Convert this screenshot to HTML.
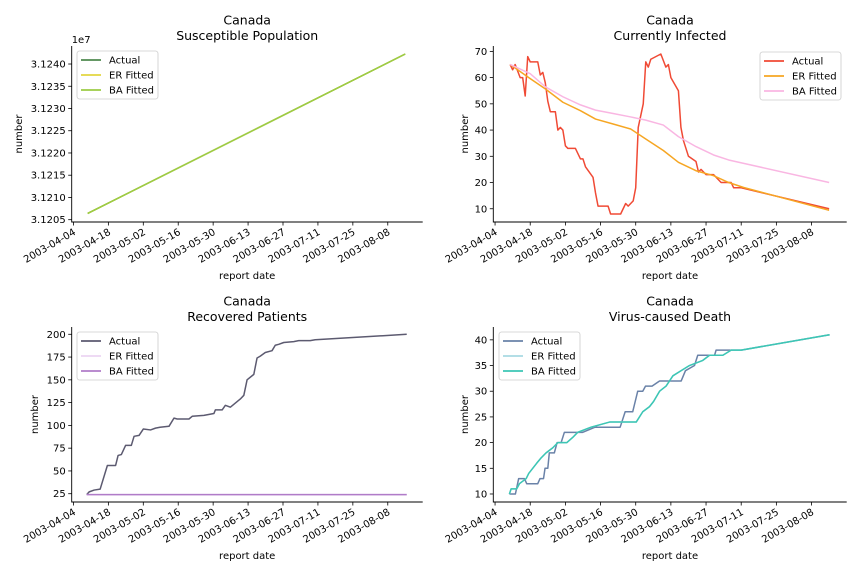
<!DOCTYPE html>
<html><head><meta charset="utf-8">
<style>
html,body{margin:0;padding:0;background:#fff;}
svg{display:block;font-family:"DejaVu Sans","Liberation Sans",sans-serif;}
</style></head>
<body>
<svg id="fig" width="864" height="576" viewBox="0 0 864 576" xmlns="http://www.w3.org/2000/svg"></svg>
<script>
// ---------- shared x data ----------
const tickDays = [0,14,28,42,56,70,84,98,112,126];
const tickLabels = ["2003-04-04","2003-04-18","2003-05-02","2003-05-16","2003-05-30","2003-06-13","2003-06-27","2003-07-11","2003-07-25","2003-08-08"];

// ---------- Susceptible (units of 1e7) ----------
const susDays = [5.7,133];
const susActual = [3.12064,3.124225];
const susER = [3.12064,3.124225];
const susBA = [3.12064,3.124225];
const susTicks = [3.1205,3.1210,3.1215,3.1220,3.1225,3.1230,3.1235,3.1240];
const susTickLabels = ["3.1205","3.1210","3.1215","3.1220","3.1225","3.1230","3.1235","3.1240"];

// ---------- Currently infected ----------
const infActDays = [6,7,8,10,11,12,13,14,17,18,19,20,21,22,24,25,26,27,28,29,32,34,35,36,39,40,41,45,46,48,50,52,53,55,56,57,59,60,61,62,66,68,69,70,73,74,75,77,80,81,82,84,87,89,90,94,95,98,133];
const infActual = [65,63,65,60,60,53,68,66,66,61,62,58,51,47,47,40,41,40,34,33,33,29,29,26,22,16,11,11,8,8,8,12,11,13,18,41,50,66,64,67,69,64,65,60,55,41,36,30,28,24,25,23,23,21,20,20,18,18,10];
const infFitDays = [6,14,20,27,34,40,47,54,60,67,73,80,87,93,99,133];
const infER = [65,59.6,55.7,50.6,47.4,44.2,42.3,40.4,36.6,32.2,27.7,24.5,22.6,20,18.1,9.4];
const infBA = [65,61.5,56.5,52.7,49.6,47.6,46.3,45,43.8,41.9,37.5,33.7,30.5,28.6,27.3,20];
const infTicks = [10,20,30,40,50,60,70];

// ---------- Recovered ----------
const recDays = [5.3,6.3,8.3,10.7,13.6,16.9,17.9,19.2,20.9,23.2,24.3,26.3,28,30.9,32.9,34.7,38.3,40.3,41.6,46.3,47.6,52.3,56.3,56.9,59.6,60.9,62.9,66.9,68.3,69.6,72.3,73.6,74.9,76.9,79.6,80.9,82.3,84.3,88.3,90.3,94.9,96.9,133.6];
const recActual = [24,27,29,30,56,56,67,68,78,78,88,89,96,95,97,98,99,108,107,107,110,111,113,117,117,122,120,129,133,150,156,174,176,180,182,188,189,191,192,193,193,194,200];
const recFitDays = [5.3,133.6];
const recER = [24,24];
const recBA = [24,24];
const recTicks = [25,50,75,100,125,150,175,200];

// ---------- Deaths ----------
const deaActDays = [5.7,8.1,9.4,11.7,12.6,17,17.9,19.3,19.9,21,21.6,23.6,24.7,26.3,27.6,34.9,39.8,49.8,51.8,54.8,56.8,58.8,59.9,62.5,65.5,74.1,75.8,79.4,80.7,87.4,88,98,133.2];
const deaActual = [10,10,13,13,12,12,13,13,15,15,18,18,20,20,22,22,23,23,26,26,30,30,31,31,32,32,34,35,37,37,38,38,41];
const deaFitDays = [5.7,6.4,8.6,9.7,12.4,13.4,15,16.6,18.3,20.3,23,25,28.6,30.9,32.9,38.2,45.6,56.2,58.8,61.5,63.1,65.5,68.1,70.8,74.1,77.4,82.7,85.4,90.7,94,98,133.2];
const deaER = [10,11,11,12,13,14,15,16,17,18,19,20,20,21,22,23,24,24,26,27,28,30,31,33,34,35,36,37,37,38,38,41];
const deaBA = [10,11,11,12,13,14,15,16,17,18,19,20,20,21,22,23,24,24,26,27,28,30,31,33,34,35,36,37,37,38,38,41];
const deaTicks = [10,15,20,25,30,35,40];

const NS = "http://www.w3.org/2000/svg";
const fig = document.getElementById('fig');
function mk(tag, attrs, parent){
  const e = document.createElementNS(NS, tag);
  for (const k in attrs) e.setAttribute(k, attrs[k]);
  (parent||fig).appendChild(e);
  return e;
}

function panel(cfg){
  const g = mk('g', {});
  
  
  const L=cfg.L, R=cfg.R, T=cfg.T, B=cfg.B;
  const xmin=-0.7, xmax=140;
  const xs = d => L + (d - xmin) / (xmax - xmin) * (R - L);
  const ys = v => B - (v - cfg.ymin) / (cfg.ymax - cfg.ymin) * (B - T);
  const cx = (L + R) / 2;
  const t1 = mk('text', {x:cx, y:T-21.5, 'text-anchor':'middle', 'font-size':12.5, fill:'#000'}, g);
  t1.textContent = 'Canada';
  
  
  const t2 = mk('text', {x:cx, y:T-6, 'text-anchor':'middle', 'font-size':12.5, fill:'#000'}, g);
  t2.textContent = cfg.title;
  
  
  cfg.series.forEach(s => {
    const pts = s.days.map((d,i) => xs(d).toFixed(2) + ',' + ys(s.vals[i]).toFixed(2)).join(' ');
    const pl = mk('polyline', {points:pts, fill:'none', stroke:s.color, 'stroke-width':1.5, 'stroke-linejoin':'round'}, g);
    
    
  });
  const sp = mk('path', {d:`M${L},${T} V${B} H${R}`, fill:'none', stroke:'#000', 'stroke-width':0.9}, g);
  
  
  tickDays.forEach((d,i) => {
    const x = xs(d);
    mk('line', {x1:x, x2:x, y1:B, y2:B+3.5, stroke:'#000', 'stroke-width':0.8}, g);
    const tx = mk('text', {x:0, y:0, 'text-anchor':'end', 'font-size':10, fill:'#000',
      transform:`translate(${x+3},${B+12}) rotate(-30)`}, g);
    tx.textContent = tickLabels[i];
    
    
  });
  cfg.yticks.forEach((v,i) => {
    const y = ys(v);
    mk('line', {x1:L-3.5, x2:L, y1:y, y2:y, stroke:'#000', 'stroke-width':0.8}, g);
    const ty = mk('text', {x:L-6, y:y+3.5, 'text-anchor':'end', 'font-size':10, fill:'#000'}, g);
    ty.textContent = cfg.ylabels ? cfg.ylabels[i] : String(v);
    
    
  });
  if (cfg.offset){
    const o = mk('text', {x:L, y:T-3, 'font-size':10, fill:'#000'}, g);
    o.textContent = cfg.offset;
    
    
  }
  const xl = mk('text', {x:cx, y:cfg.xlabY, 'text-anchor':'middle', 'font-size':10, fill:'#000'}, g);
  xl.textContent = 'report date';
  
  
  const my = (T+B)/2;
  const yl = mk('text', {x:0, y:0, 'text-anchor':'middle', 'font-size':10, fill:'#000',
    transform:`translate(${cfg.ylabX},${my}) rotate(-90)`}, g);
  yl.textContent = 'number';
  
  
  const lg = mk('g', {}, g);
  
  
  const lx = cfg.legX, ly = cfg.legY;
  mk('rect', {x:lx, y:ly, width:81, height:48, rx:2.5, fill:'#fff', 'fill-opacity':0.8, stroke:'#ccc', 'stroke-width':0.8}, lg);
  cfg.series.forEach((s,i) => {
    const yy = ly + 9 + i*15;
    const ent = mk('g', {}, lg);
    
    
    mk('line', {x1:lx+4, x2:lx+24, y1:yy, y2:yy, stroke:s.color, 'stroke-width':1.8}, ent);
    const lt = mk('text', {x:lx+32, y:yy+3.5, 'font-size':10, fill:'#000'}, ent);
    lt.textContent = s.label;
  });
}

panel({name:'susceptible-panel', title:'Susceptible Population', L:71.7, R:422.7, T:46, B:222,
  ymin:3.120448, ymax:3.124405, yticks:susTicks, ylabels:susTickLabels, offset:'1e7',
  xlabY:279, ylabX:22, legX:77, legY:51,
  series:[
    {key:'actual', label:'Actual', color:'#4f8a4f', days:susDays, vals:susActual},
    {key:'er-fitted', label:'ER Fitted', color:'#e2d640', days:susDays, vals:susER},
    {key:'ba-fitted', label:'BA Fitted', color:'#9ccc44', days:susDays, vals:susBA}
  ]});
panel({name:'infected-panel', title:'Currently Infected', L:493.3, R:846.7, T:46, B:222,
  ymin:4.95, ymax:72.05, yticks:infTicks,
  xlabY:279, ylabX:468, legX:760, legY:52,
  series:[
    {key:'actual', label:'Actual', color:'#f04a35', days:infActDays, vals:infActual},
    {key:'er-fitted', label:'ER Fitted', color:'#f6a623', days:infFitDays, vals:infER},
    {key:'ba-fitted', label:'BA Fitted', color:'#f9b6e2', days:infFitDays, vals:infBA}
  ]});
panel({name:'recovered-panel', title:'Recovered Patients', L:71.7, R:422.7, T:327, B:502,
  ymin:15.9, ymax:208, yticks:recTicks,
  xlabY:559, ylabX:38, legX:77, legY:332,
  series:[
    {key:'actual', label:'Actual', color:'#5c5a70', days:recDays, vals:recActual},
    {key:'er-fitted', label:'ER Fitted', color:'#ecd4f2', days:recFitDays, vals:recER},
    {key:'ba-fitted', label:'BA Fitted', color:'#b07cc8', days:recFitDays, vals:recBA}
  ]});
panel({name:'death-panel', title:'Virus-caused Death', L:493.3, R:846.7, T:327, B:502,
  ymin:8.44, ymax:42.5, yticks:deaTicks,
  xlabY:559, ylabX:468, legX:499, legY:332,
  series:[
    {key:'actual', label:'Actual', color:'#6a82a8', days:deaActDays, vals:deaActual},
    {key:'er-fitted', label:'ER Fitted', color:'#a8dae2', days:deaFitDays, vals:deaER},
    {key:'ba-fitted', label:'BA Fitted', color:'#3cc6b4', days:deaFitDays, vals:deaBA}
  ]});
</script>
</body></html>
